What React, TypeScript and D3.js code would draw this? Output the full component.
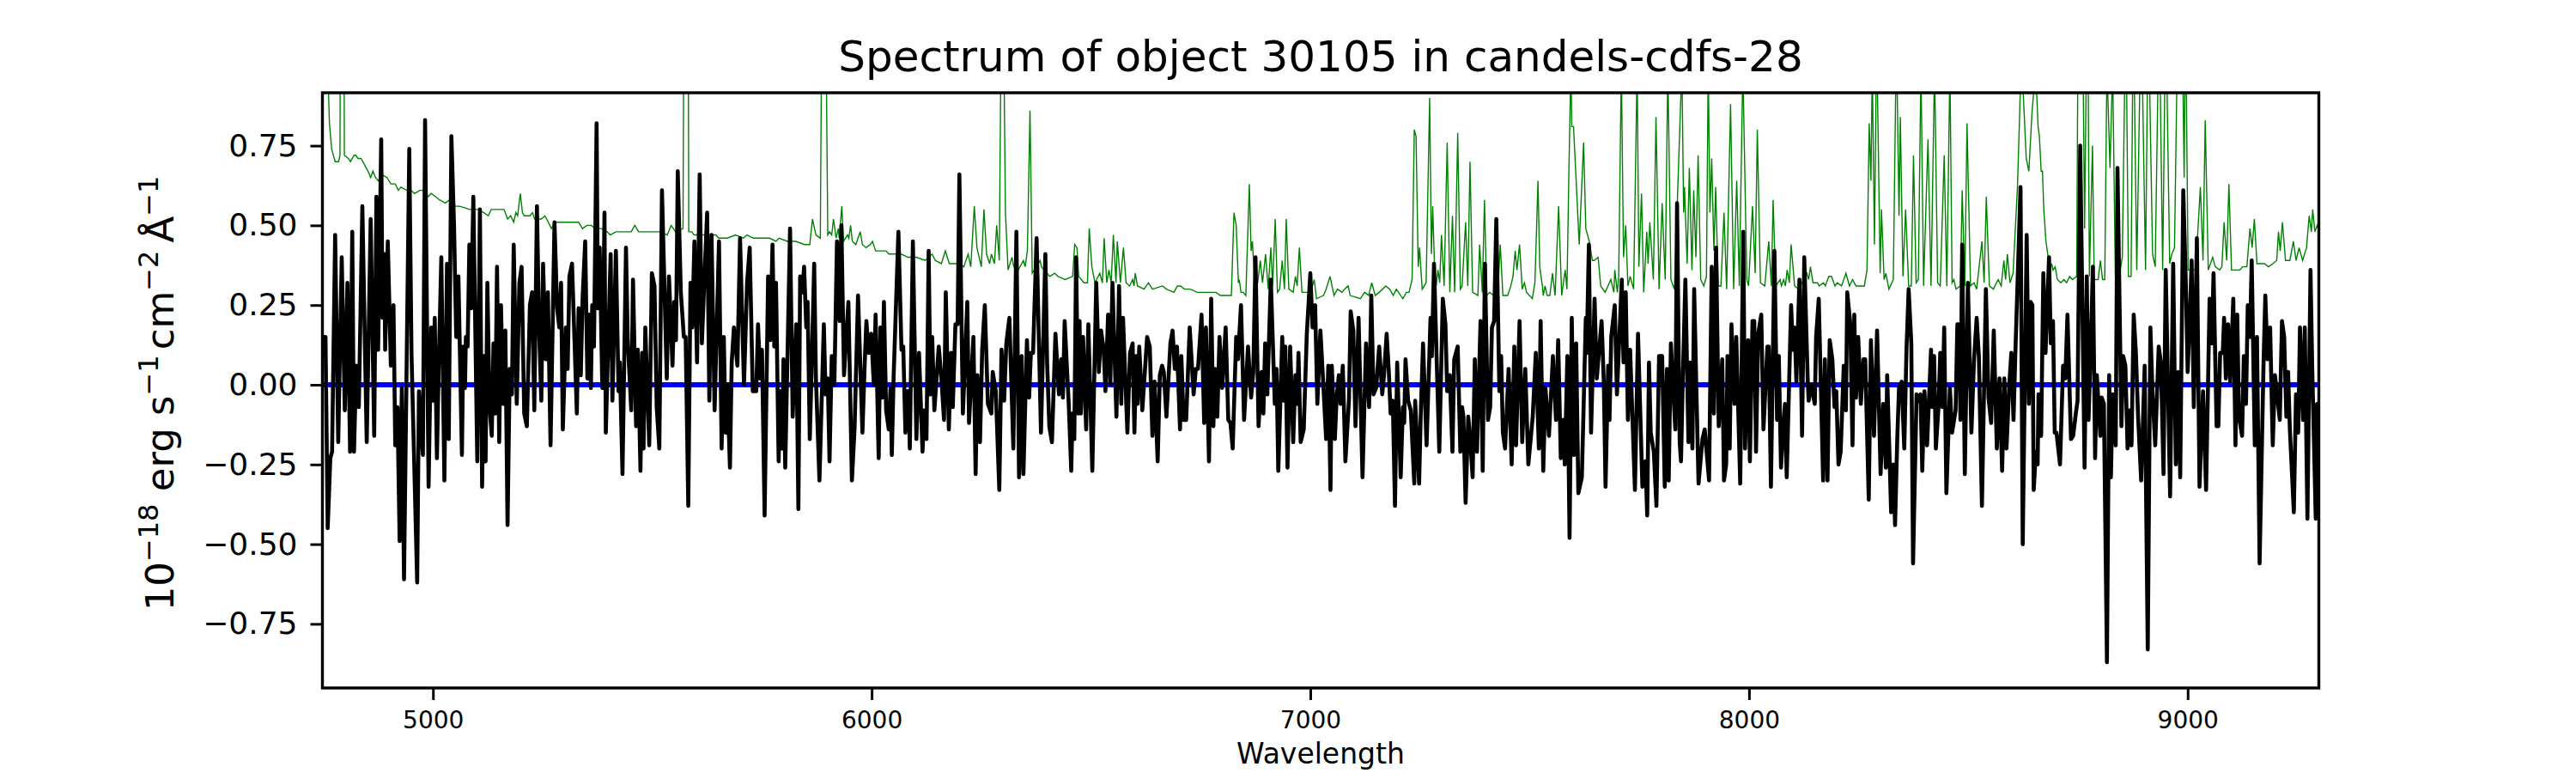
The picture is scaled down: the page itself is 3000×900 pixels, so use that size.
import React, { useEffect, useRef } from 'react';
import * as d3 from 'd3';

type Sample = [number, number];

// [wavelength, flux]
const fluxSamples: Sample[] = [
  [4748,.15],[4755,.15],[4760,-.45],[4766,-.23],[4770,-.21],[4777,.47],[4784,-.18],[4792,.40],[4799,-.08],[4805,.32],[4811,-.21],[4816,.48],[4820,-.21],[4825,.06],[4831,-.07],[4839,.56],[4849,-.18],[4858,.52],[4866,-.16],[4871,.59],[4875,.11],[4882,.77],[4885,.21],[4889,.41],[4891,.11],[4897,.45],[4904,.06],[4910,.25],[4914,-.19],[4919,-.07],[4924,-.49],[4929,-.01],[4934,-.61],[4946,.74],[4951,.10],[4964,-.62],[4968,-.02],[4977,-.22],[4982,.83],[4990,-.32],[4996,.18],[5001,-.05],[5004,.21],[5009,-.23],[5013,.05],[5019,.40],[5026,-.30],[5032,.38],[5036,-.17],[5042,.78],[5048,.50],[5053,.15],[5058,.34],[5066,-.22],[5069,.12],[5073,-.01],[5075,.15],[5079,.12],[5083,.44],[5087,.24],[5092,.59],[5097,.13],[5101,-.24],[5107,.55],[5112,-.32],[5116,.09],[5120,-.24],[5124,.32],[5129,-.07],[5134,-.16],[5138,.13],[5142,-.09],[5146,.37],[5151,-.18],[5155,.25],[5160,-.06],[5165,.17],[5170,-.44],[5175,.05],[5180,-.03],[5184,.44],[5191,-.06],[5197,.32],[5202,.37],[5208,-.09],[5214,-.13],[5221,.25],[5226,.29],[5231,-.08],[5237,.56],[5242,.17],[5247,-.05],[5251,.38],[5257,.08],[5262,.29],[5268,-.19],[5277,.51],[5283,.24],[5288,.18],[5292,.32],[5296,-.14],[5303,.18],[5307,.05],[5311,.34],[5317,.38],[5328,-.09],[5332,.24],[5337,.03],[5341,.27],[5347,.45],[5352,.02],[5356,.22],[5360,-.01],[5363,.25],[5367,.12],[5373,.82],[5376,.24],[5380,.43],[5386,-.01],[5391,.54],[5394,-.15],
  [5405,.41],[5409,-.05],[5417,.42],[5423,-.02],[5426,.07],[5432,-.28],[5440,.43],[5444,.14],[5452,-.08],[5456,.33],[5463,-.13],[5467,.11],[5473,-.27],[5477,.10],[5480,-.20],[5484,.18],[5493,-.19],[5499,.35],[5505,.31],[5510,-.07],[5516,-.20],[5522,.61],[5533,.02],[5538,.34],[5546,.06],[5550,.26],[5554,.14],[5558,.67],[5565,.29],[5572,.15],[5576,.15],[5582,-.38],[5587,.32],[5591,.18],[5596,.45],[5602,.07],[5608,.66],[5613,.13],[5619,.34],[5625,.54],[5630,-.05],[5635,.47],[5642,-.08],[5652,.45],[5658,-.20],[5663,.15],[5667,-.15],[5671,0],[5677,-.26],[5681,.07],[5686,.18],[5694,.06],[5700,.46],[5709,0],[5716,.32],[5722,.43],[5729,-.02],[5737,-.02],[5741,.19],[5746,.02],[5750,.11],[5756,-.41],[5764,.34],[5769,.14],[5774,.44],[5778,.12],[5782,.32],[5788,-.24],[5791,-.02],[5796,-.20],[5799,.08],[5803,-.26],[5814,.49],[5820,-.10],[5828,.19],[5833,-.39],[5837,.34],[5842,.29],[5846,.37],[5851,.18],[5854,.26],[5859,-.17],[5863,.04],[5869,.38],[5873,.02],[5881,-.30],[5891,.19],[5895,-.03],[5900,.02],[5904,-.24],[5909,.09],[5915,0],[5921,.45],[5927,.20],[5931,.50],[5937,.03],[5947,.26],[5955,-.30],[5961,-.14],[5969,.28],[5979,-.15],[5984,.06],[5988,.20],[5993,.10],[5999,.16],[6005,0],[6009,.22],[6016,-.23],[6020,.18],[6024,-.04],[6028,.26],[6033,-.08],[6039,-.14],[6043,-.01],[6046,-.22],
  [6050,.02],[6061,.48],[6068,.11],[6072,.12],[6077,-.15],[6080,-.02],[6084,-.02],[6087,-.20],[6094,.45],[6102,-.17],[6108,.10],[6116,-.21],[6120,-.08],[6125,-.17],[6130,.42],[6134,-.03],[6138,.15],[6143,-.08],[6153,.12],[6159,.02],[6165,-.11],[6169,.29],[6176,-.14],[6181,.10],[6185,-.07],[6191,.19],[6196,.19],[6200,.66],[6208,-.09],[6218,.26],[6222,-.12],[6232,.15],[6237,-.28],[6241,.03],[6247,-.18],[6252,.11],[6258,.25],[6265,-.06],[6273,-.09],[6276,.04],[6283,-.02],[6291,-.33],[6296,.11],[6302,-.05],[6307,.13],[6314,.21],[6323,-.20],[6330,.48],[6336,-.29],[6342,.09],[6346,-.28],[6354,.14],[6359,-.04],[6363,.10],[6368,.10],[6376,.46],[6386,-.15],[6396,.41],[6400,.07],[6405,-.13],[6411,-.18],[6419,.16],[6427,-.03],[6432,.08],[6436,-.04],[6440,.20],[6446,.03],[6449,-.05],[6455,-.27],[6458,-.09],[6462,-.17],[6466,.40],[6471,-.09],[6474,.20],[6477,-.09],[6482,.15],[6489,-.14],[6494,.19],[6503,-.27],[6512,.32],[6518,.04],[6523,.17],[6529,.11],[6533,-.02],[6539,.22],[6544,0],[6549,.32],[6558,-.10],[6564,.31],[6569,-.06],[6573,.21],[6583,-.15],[6589,.10],[6595,.13],[6599,-.15],[6603,.09],[6606,-.06],[6610,.12],[6617,-.08],[6628,.15],[6634,.12],[6640,-.16],[6645,.01],[6652,-.24],[6657,.03],[6662,.06],[6666,.04],[6672,-.10],[6681,.13],[6686,.17],[6691,.05],[6696,.12],
  [6703,-.14],[6706,.09],[6711,-.11],[6717,-.11],[6725,.18],[6734,-.03],[6739,.05],[6744,.05],[6752,.22],[6758,-.12],[6762,.18],[6769,-.24],[6774,.27],[6779,-.13],[6783,.05],[6788,-.10],[6793,.15],[6799,-.01],[6807,.18],[6813,-.11],[6818,-.12],[6823,-.20],[6831,.15],[6835,.08],[6842,.25],[6849,-.11],[6858,.12],[6865,-.04],[6870,.04],[6875,.40],[6882,-.13],[6889,.04],[6893,-.09],[6897,.13],[6902,-.03],[6910,.33],[6919,-.06],[6923,.05],[6927,-.27],[6936,.15],[6940,-.05],[6943,.12],[6948,-.26],[6954,.12],[6961,-.18],[6966,.03],[6970,-.06],[6973,.10],[6978,-.18],[6985,-.14],[6992,.16],[7000,.35],[7005,.18],[7011,.25],[7016,-.06],[7023,.17],[7030,-.01],[7036,-.17],[7041,.06],[7046,-.33],[7049,.06],[7056,-.17],[7060,-.04],[7065,.03],[7069,-.06],[7074,.06],[7080,-.24],[7088,-.05],[7092,.23],[7098,.17],[7103,-.13],[7110,.21],[7119,-.29],[7127,.13],[7134,-.07],[7139,.28],[7144,-.03],[7150,-.01],[7157,.12],[7164,-.03],[7168,.03],[7174,.16],[7179,.04],[7183,-.09],[7188,-.05],[7193,-.38],[7198,.07],[7206,-.29],[7211,-.07],[7214,-.12],[7217,.08],[7223,-.05],[7229,-.08],[7237,-.31],[7239,-.05],[7248,-.31],[7252,-.08],[7257,.13],[7265,-.19],[7274,.21],[7277,.09],[7282,.38],[7288,.08],[7294,-.21],[7302,.27],[7308,.19],[7312,-.02],[7318,.03],[7324,-.21],[7328,.08],[7336,.12],[7342,-.21],[7346,-.07],
  [7349,-.10],[7354,-.37],[7360,-.10],[7364,-.16],[7370,-.29],[7375,.08],[7380,-.21],[7388,.20],[7393,-.27],[7398,.38],[7405,-.11],[7410,-.07],[7414,.18],[7419,.20],[7424,.52],[7431,-.02],[7435,.09],[7439,-.15],[7444,-.20],[7452,.05],[7459,-.25],[7465,.12],[7469,-.19],[7477,.20],[7483,-.18],[7490,.05],[7497,-.25],[7507,-.10],[7514,.10],[7521,-.20],[7525,.20],[7531,-.27],[7536,-.01],[7544,-.16],[7553,.09],[7560,-.11],[7565,.14],[7571,-.23],[7576,-.11],[7580,-.25],[7586,.09],[7591,-.48],[7596,.21],[7601,-.22],[7606,.13],[7611,-.34],[7619,-.29],[7628,.21],[7630,.10],[7635,.44],[7640,-.15],[7648,.27],[7653,.02],[7664,.20],[7669,.01],[7673,-.32],[7679,.06],[7682,-.11],[7686,.15],[7694,.25],[7699,-.03],[7710,.33],[7714,.07],[7719,.29],[7724,-.11],[7729,.11],[7740,-.33],[7747,.16],[7757,-.32],[7764,-.24],[7768,-.41],[7772,.07],[7776,-.15],[7783,-.21],[7789,-.38],[7795,.09],[7802,.09],[7808,-.32],[7813,.05],[7817,-.30],[7822,.13],[7832,-.14],[7836,.57],[7842,-.18],[7845,-.24],[7849,.01],[7855,.33],[7862,-.18],[7866,.07],[7871,-.20],[7875,.30],[7881,-.07],[7885,-.31],[7894,-.17],[7899,-.14],[7909,-.30],[7915,.37],[7920,-.09],[7925,.43],[7931,-.13],[7939,.08],[7943,-.30],[7948,-.25],[7951,.09],[7956,-.20],[7960,.19],[7967,-.06],[7971,.15],[7980,-.31],[7987,.48],[7991,-.20],
  [7998,.14],[8002,-.24],[8008,.20],[8012,.20],[8016,-.21],[8021,.16],[8028,.22],[8033,-.14],[8042,.12],[8045,.12],[8050,-.32],[8058,.42],[8064,-.11],[8068,.09],[8073,-.26],[8078,-.14],[8082,-.06],[8086,-.29],[8096,.25],[8100,.11],[8104,.18],[8108,.01],[8115,.33],[8121,-.16],[8126,.40],[8134,.01],[8136,-.05],[8141,0],[8150,-.06],[8153,.15],[8159,.27],[8169,-.30],[8173,.08],[8179,-.30],[8184,.14],[8190,.08],[8195,-.07],[8199,-.02],[8204,-.25],[8209,-.21],[8216,.06],[8221,-.08],[8224,.29],[8231,.19],[8236,-.19],[8240,.22],[8244,-.04],[8249,.15],[8255,-.06],[8261,.08],[8265,.08],[8273,-.36],[8278,.14],[8285,-.16],[8292,.17],[8300,-.28],[8306,-.06],[8312,-.26],[8315,.03],[8324,-.40],[8329,-.25],[8333,-.44],[8338,-.17],[8342,-.01],[8348,.01],[8354,-.20],[8359,.11],[8364,.30],[8370,.13],[8374,-.56],[8382,-.03],[8387,-.05],[8391,-.03],[8395,-.27],[8400,-.02],[8406,-.19],[8415,.11],[8418,-.07],[8422,.09],[8426,-.20],[8432,-.07],[8436,.10],[8441,-.07],[8445,.18],[8450,-.34],[8458,-.01],[8463,-.15],[8471,-.08],[8475,.19],[8479,.19],[8482,-.11],[8486,.44],[8492,-.28],[8499,.32],[8507,-.15],[8513,.08],[8519,.21],[8524,.09],[8531,-.38],[8540,.30],[8546,-.04],[8552,-.12],[8558,.17],[8565,-.20],[8571,.02],[8577,-.27],[8582,.02],[8587,-.20],[8593,-.01],[8598,.10],[8603,-.11],[8607,.09],[8619,.62],[8624,-.50],[8633,.47],[8638,-.06],[8642,.26],
  [8646,.25],[8649,-.33],[8654,-.21],[8658,-.25],[8660,-.03],[8666,-.16],[8671,.35],[8676,.10],[8684,.40],[8688,.13],[8693,.20],[8697,-.15],[8701,-.15],[8709,-.25],[8716,.06],[8721,.02],[8726,.22],[8734,-.17],[8739,-.16],[8745,-.09],[8749,-.05],[8755,.75],[8765,-.26],[8770,.34],[8774,-.11],[8778,.07],[8784,.37],[8789,-.23],[8793,.03],[8801,-.16],[8804,-.04],[8809,-.06],[8816,-.87],[8821,.03],[8825,-.29],[8829,-.03],[8836,-.19],[8840,.68],[8849,-.13],[8853,.09],[8858,.06],[8863,-.20],[8868,-.08],[8872,-.19],[8877,.22],[8882,.10],[8887,-.10],[8894,-.30],[8902,.06],[8909,-.83],[8915,.18],[8920,-.03],[8926,-.19],[8934,.12],[8939,.07],[8945,-.28],[8950,.36],[8960,-.35],[8967,.38],[8973,-.25],[8979,.04],[8983,-.29],[8990,.61],[8996,.31],[9000,.04],[9005,.21],[9009,.39],[9014,-.07],[9021,.46],[9027,-.32],[9035,-.02],[9042,-.33],[9050,.27],[9055,.13],[9059,.35],[9066,-.13],[9070,-.13],[9074,.10],[9080,.10],[9083,.21],[9087,.02],[9092,.19],[9097,.01],[9104,.27],[9109,-.19],[9113,.22],[9117,-.10],[9124,-.16],[9128,.09],[9133,-.06],[9137,.25],[9142,.15],[9146,.39],[9153,-.19],[9158,.15],[9164,-.56],[9173,.07],[9177,.28],[9182,.08],[9188,.18],[9194,-.19],[9199,.03],[9210,-.11],[9215,.20],[9220,.15],[9225,-.10],[9229,.04],[9233,-.14],[9242,-.40],[9247,-.03],[9252,-.15],[9256,.18],[9263,-.11],[9267,.18],[9273,-.42],[9280,.36],[9284,.05],[9292,-.42],[9295,-.06],[9298,-.42],
];

// noise spectrum, the peaks that leave the frame are only estimates
const noiseSamples: Sample[] = [
  [4748,1.5],[4762,.91],[4764,.82],[4769,.74],[4777,.70],[4785,.70],[4788,.72],[4789,1.2],[4797,1.2],[4798,.72],[4807,.71],[4812,.70],[4820,.72],[4824,.72],[4829,.71],[4836,.71],[4844,.69],[4852,.67],[4858,.65],[4863,.67],[4869,.65],[4875,.64],[4882,.66],[4895,.65],[4904,.63],[4914,.63],[4921,.61],[4927,.62],[4940,.61],[4950,.61],[4958,.60],[4970,.61],[4977,.61],[4989,.59],[4996,.60],[5006,.59],[5015,.58],[5028,.57],[5038,.58],[5051,.56],[5061,.56],[5084,.55],[5094,.55],[5103,.55],[5116,.54],[5126,.53],[5133,.55],[5142,.55],[5152,.55],[5162,.55],[5170,.52],[5177,.53],[5184,.51],[5189,.54],[5193,.53],[5199,.60],[5204,.54],[5208,.53],[5221,.53],[5227,.54],[5232,.52],[5238,.52],[5247,.52],[5255,.53],[5263,.51],[5270,.49],[5279,.51],[5292,.51],[5312,.51],[5325,.51],[5332,.51],[5341,.49],[5351,.50],[5361,.50],[5369,.49],[5384,.49],
  [5397,.48],[5404,.47],[5417,.48],[5433,.48],[5452,.48],[5460,.50],[5469,.48],[5482,.48],[5488,.48],[5498,.48],[5518,.48],[5534,.47],[5543,.50],[5553,.48],[5570,.49],[5572,1.2],[5582,1.2],[5583,.48],[5590,.48],[5595,.47],[5612,.47],[5632,.47],[5645,.47],[5651,.46],[5671,.46],[5690,.47],[5707,.46],[5716,.47],[5730,.46],[5752,.46],[5767,.46],[5782,.45],[5789,.46],[5808,.45],[5827,.45],[5847,.44],[5859,.44],[5865,.52],[5873,.47],[5883,.46],[5886,1.1],[5896,1.1],[5900,.47],[5904,.48],[5909,.47],[5913,.52],[5919,.46],[5924,.49],[5926,.46],[5932,.56],[5936,.45],[5945,.47],[5948,.46],[5952,.50],[5956,.45],[5964,.44],[5974,.48],[5979,.44],[5987,.43],[5997,.44],[6002,.45],[6009,.42],[6020,.42],[6033,.42],[6039,.41],
  [6047,.41],[6067,.41],[6083,.40],[6102,.40],[6122,.39],[6138,.41],[6145,.39],[6159,.38],[6168,.42],[6177,.38],[6197,.38],[6210,.37],[6220,.41],[6226,.37],[6234,.56],[6240,.43],[6250,.37],[6256,.55],[6262,.41],[6269,.38],[6273,.41],[6280,.38],[6285,.50],[6291,.39],[6295,1.1],[6301,1.1],[6305,.54],[6311,.36],[6320,.40],[6324,.37],[6334,.36],[6346,.39],[6350,.37],[6355,.42],[6361,.86],[6366,.35],[6384,.39],[6387,.37],[6406,.34],[6417,.35],[6425,.34],[6441,.33],[6458,.34],[6463,.44],[6468,.43],[6472,.34],[6484,.32],[6492,.32],[6496,.49],[6502,.37],[6509,.32],[6520,.35],[6526,.32],[6530,.46],[6536,.32],[6541,.36],[6546,.32],[6551,.47],[6557,.32],[6560,.45],[6567,.32],[6574,.43],[6580,.32],[6588,.31],[6595,.33],[6598,.31],[6601,.35],[6606,.31],[6621,.30],[6631,.32],[6640,.30],[6663,.31],[6672,.30],[6689,.29],
  [6697,.31],[6704,.31],[6713,.30],[6726,.30],[6743,.29],[6762,.29],[6785,.29],[6795,.28],[6820,.28],[6826,.54],[6831,.50],[6836,.32],[6838,.33],[6842,.29],[6847,.29],[6853,.28],[6861,.63],[6865,.42],[6868,.45],[6873,.32],[6880,.32],[6886,.39],[6891,.32],[6898,.41],[6904,.30],[6910,.43],[6914,.31],[6920,.52],[6925,.29],[6930,.30],[6936,.39],[6941,.30],[6945,.52],[6951,.30],[6961,.29],[6966,.34],[6970,.31],[6975,.43],[6981,.29],[6990,.29],[6998,.29],[7003,.30],[7009,.33],[7014,.27],[7030,.28],[7036,.30],[7045,.34],[7054,.28],[7062,.30],[7072,.29],[7078,.30],[7086,.31],[7091,.28],[7114,.27],[7124,.29],[7133,.28],[7140,.32],[7148,.28],[7157,.29],[7172,.31],[7181,.30],[7189,.28],[7196,.30],[7211,.27],[7219,.29],[7225,.29],[7232,.33],[7237,.80],[7241,.78],[7246,.37],[7249,.43],[7255,.30],[7264,.32],[7272,.90],[7276,.41],[7279,.56],[7284,.33],[7287,.31],[7291,.36],[7295,.32],[7299,.47],[7305,.31],[7312,.76],[7318,.29],[7324,.53],[7329,.29],[7336,.79],[7342,.30],
  [7346,.31],[7354,.51],[7359,.31],[7364,.70],[7370,.29],[7382,.28],[7386,.44],[7392,.29],[7397,.58],[7402,.28],[7409,.29],[7418,.28],[7427,.28],[7433,.44],[7439,.28],[7450,.28],[7457,.31],[7462,.34],[7467,.42],[7471,.36],[7477,.44],[7483,.30],[7488,.32],[7493,.29],[7506,.27],[7512,.32],[7519,.64],[7523,.37],[7529,.31],[7531,.28],[7535,.31],[7540,.28],[7546,.28],[7552,.35],[7558,.28],[7566,.56],[7573,.28],[7581,.36],[7585,.30],[7590,.71],[7594,1.0],[7596,.81],[7600,.81],[7613,.44],[7623,.76],[7628,.49],[7636,.45],[7643,.39],[7647,.39],[7656,.40],[7662,.31],[7672,.29],[7685,.33],[7692,.29],[7694,.36],[7700,.29],[7703,.34],[7709,1.0],[7714,.40],[7719,.50],[7724,.31],[7729,.34],[7737,.30],[7745,1.0],[7749,.37],[7755,.60],[7760,.29],[7767,.48],[7770,.38],[7774,.51],[7782,.33],[7788,.84],[7795,.30],[7802,.57],[7809,.33],[7815,1.0],[7822,.33],[7830,.30],[7847,1.0],[7851,.54],[7853,.62],[7859,.38],[7864,.68],[7870,.36],[7874,.61],[7879,.40],[7884,.72],[7890,.33],[7897,.31],[7903,.34],[7907,1.0],[7911,.54],[7915,.71],[7920,.42],[7924,.62],[7930,.31],[7936,.31],[7943,.54],[7949,.30],[7958,.88],[7965,.30],[7972,.64],[7978,.31],[7986,1.0],[7995,.33],
  [7999,.31],[8008,.56],[8014,.35],[8019,.80],[8026,.32],[8036,.31],[8045,.45],[8051,.31],[8055,.58],[8061,.31],[8071,.33],[8074,.31],[8079,.33],[8083,.31],[8087,.36],[8092,.32],[8096,.44],[8104,.31],[8113,.30],[8132,.35],[8136,.33],[8140,.37],[8146,.32],[8156,.32],[8160,.31],[8170,.32],[8174,.31],[8182,.34],[8188,.34],[8196,.31],[8201,.32],[8211,.31],[8221,.35],[8229,.31],[8236,.33],[8244,.31],[8254,.31],[8263,.31],[8269,.36],[8274,.82],[8278,.64],[8281,1.0],[8286,.44],[8291,1.1],[8299,.35],[8302,.55],[8308,.33],[8312,.35],[8319,.30],[8329,.33],[8336,1.1],[8342,.53],[8345,.84],[8351,.34],[8357,.55],[8364,.31],[8370,.31],[8375,.72],[8381,.32],[8386,.33],[8392,1.0],[8398,.31],[8408,.77],[8415,.31],[8423,1.0],[8430,.32],[8436,.31],[8445,.72],[8451,.31],[8458,1.0],[8463,.32],[8467,.33],[8472,.30],[8482,.31],[8486,.61],[8492,.31],[8497,.82],[8505,.31],[8513,.32],[8519,.30],[8531,.45],[8536,.32],[8541,.59],[8548,.31],[8557,.30],[8568,.33],[8575,.31],[8581,.39],[8585,.33],[8589,.41],[8595,.32],[8602,.35],[8612,.62],[8617,.85],[8620,1.0],[8625,.92],[8632,.71],[8638,.67],[8645,.85],
  [8649,.92],[8656,.91],[8659,.81],[8662,.78],[8666,.67],[8669,.67],[8672,.55],[8677,.45],[8682,.40],[8686,.36],[8690,.38],[8693,.36],[8698,.37],[8703,.33],[8711,.32],[8718,.33],[8724,.32],[8731,.34],[8737,.33],[8747,.34],[8750,1.1],[8761,1.1],[8765,.49],[8769,1.0],[8773,1.0],[8776,.34],[8783,.75],[8787,.33],[8796,.33],[8801,.39],[8806,.33],[8811,.33],[8816,1.0],[8823,.68],[8829,1.0],[8835,.35],[8845,.35],[8851,.40],[8859,1.2],[8865,.34],[8871,.34],[8876,1.2],[8884,.36],[8894,1.2],[8904,.36],[8910,1.2],[8920,.41],[8926,.37],[8935,1.2],[8943,.36],[8950,1.2],[8959,.38],[8964,.41],[8970,.43],[8975,.91],[8980,1.2],[8987,1.2],[8992,.65],[8995,1.2],[9001,.36],[9006,.36],[9018,.36],[9029,.62],[9035,.39],[9040,.83],[9047,.36],[9057,.40],[9063,.37],[9073,.36],[9078,.37],[9083,.51],[9089,.39],[9094,.63],[9100,.36],[9109,.36],[9119,.36],[9125,.37],[9135,.37],[9142,.49],[9147,.43],[9152,.52],[9158,.38],[9168,.38],[9175,.38],[9184,.37],[9194,.38],[9203,.39],[9207,.48],[9211,.42],[9216,.51],[9223,.39],[9233,.39],[9241,.45],[9247,.39],[9254,.43],[9262,.39],[9271,.43],[9277,.53],[9282,.48],[9285,.55],[9290,.48],[9295,.50],[9298,.49],
];

const zeroSamples: Sample[] = [[4749, 0], [9298, 0]];

const xDomain = [4748, 9299];
const yDomain = [-0.951, 0.916];
const xTicks = [5000, 6000, 7000, 8000, 9000];
const yTicks = [-0.75, -0.5, -0.25, 0, 0.25, 0.5, 0.75];
const titleText = 'Spectrum of object 30105 in candels-cdfs-28';
const xLabelText = 'Wavelength';

const width = 3000;
const height = 900;
const margin = { top: 108, right: 299.5, bottom: 99, left: 375.5 };

export default function App() {
  const svgRef = useRef<SVGSVGElement>(null);

  useEffect(() => {
    const svg = d3.select(svgRef.current);
    svg.selectAll('*').remove();
    svg.style('font-family', '"DejaVu Sans"');

    const x = d3.scaleLinear().domain(xDomain).range([margin.left, width - margin.right]);
    const y = d3.scaleLinear().domain(yDomain).range([height - margin.bottom, margin.top]);

    svg.append('rect').attr('width', width).attr('height', height).attr('fill', 'white');

    svg.append('clipPath').attr('id', 'plot-clip')
      .append('rect')
      .attr('x', margin.left)
      .attr('y', margin.top)
      .attr('width', width - margin.left - margin.right)
      .attr('height', height - margin.top - margin.bottom);

    const line = d3.line<Sample>().x(d => x(d[0])).y(d => y(d[1]));
    const plot = svg.append('g').attr('clip-path', 'url(#plot-clip)');

    plot.append('path').datum(noiseSamples)
      .attr('d', line).attr('fill', 'none')
      .attr('stroke', '#008000').attr('stroke-width', 1.4);
    plot.append('path').datum(zeroSamples)
      .attr('d', line).attr('fill', 'none')
      .attr('stroke', '#0000ff').attr('stroke-width', 6);
    plot.append('path').datum(fluxSamples)
      .attr('d', line).attr('fill', 'none')
      .attr('stroke', '#000000').attr('stroke-width', 4.6)
      .attr('stroke-linejoin', 'round');

    // Frame
    svg.append('rect')
      .attr('x', margin.left)
      .attr('y', margin.top)
      .attr('width', width - margin.left - margin.right)
      .attr('height', height - margin.top - margin.bottom)
      .attr('fill', 'none')
      .attr('stroke', 'black')
      .attr('stroke-width', 3.4);

    // Axes
    const xAxis = svg.append('g')
      .attr('transform', `translate(0,${height - margin.bottom})`)
      .call(d3.axisBottom(x).tickValues(xTicks).tickFormat(d3.format('d')).tickSize(14).tickPadding(13));
    xAxis.select('.domain').remove();
    xAxis.selectAll('line').attr('stroke-width', 3);
    xAxis.selectAll('text').attr('font-size', 28).attr('font-family', '"DejaVu Sans"').attr('fill', 'black');

    const yAxis = svg.append('g')
      .attr('transform', `translate(${margin.left},0)`)
      .call(d3.axisLeft(y).tickValues(yTicks).tickFormat(d3.format('.2f')).tickSize(14).tickPadding(15));
    yAxis.select('.domain').remove();
    yAxis.selectAll('line').attr('stroke-width', 3);
    yAxis.selectAll('text').attr('font-size', 36).attr('font-family', '"DejaVu Sans"').attr('fill', 'black');

    svg.append('text')
      .attr('x', 1538).attr('y', 83)
      .attr('text-anchor', 'middle')
      .attr('font-size', 50)
      .text(titleText);

    svg.append('text')
      .attr('x', 1538).attr('y', 889)
      .attr('text-anchor', 'middle')
      .attr('font-size', 33)
      .text(xLabelText);

    // y label with mathtext style superscripts
    const yLabel = svg.append('text')
      .attr('transform', 'translate(202,458) rotate(-90)')
      .attr('text-anchor', 'middle')
      .attr('font-size', 45);
    const parts: [string, boolean][] = [
      ['10', false], ['\u221218', true], [' erg s', false], ['\u22121', true],
      ['cm', false], ['\u22122', true], ['\u2009\u00c5', false], ['\u22121', true],
    ];
    parts.forEach(([txt, sup], i) => {
      const prevSup = i > 0 && parts[i - 1][1];
      yLabel.append('tspan')
        .attr('dy', sup ? -18 : prevSup ? 18 : 0)
        .attr('dx', txt === 'cm' ? 6 : 0)
        .attr('font-size', sup ? 32 : 45)
        .attr('xml:space', 'preserve')
        .text(txt);
    });
  }, []);

  return (
    <svg
      ref={svgRef}
      width={width}
      height={height}
      style={{ position: 'absolute', left: 0, top: 0, display: 'block' }}
    />
  );
}
